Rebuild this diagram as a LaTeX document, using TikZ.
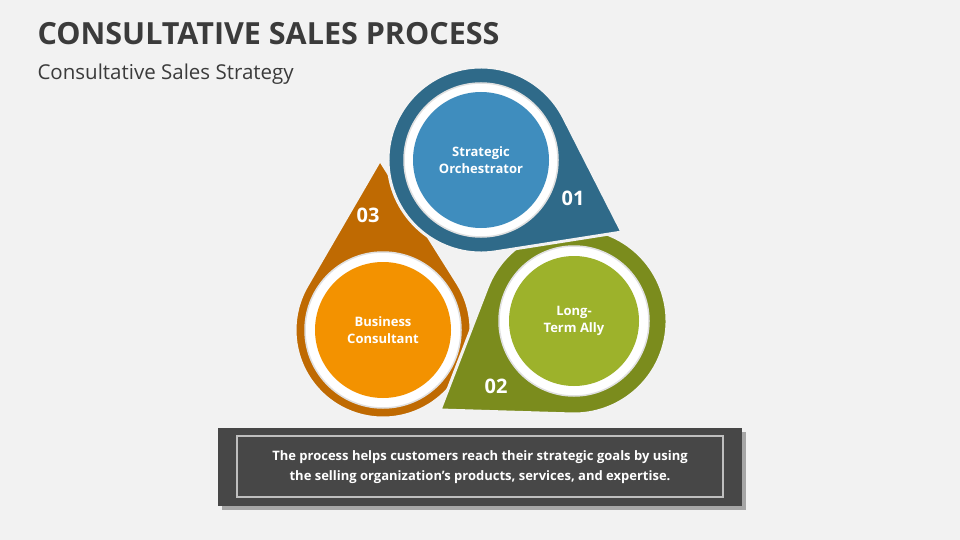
\documentclass[tikz,border=0pt]{standalone}
\usepackage{fontspec}
\setmainfont{Open Sans}
\usetikzlibrary{calc}
\definecolor{bg}{HTML}{F2F2F2}
\definecolor{bluO}{HTML}{2F6A89}
\definecolor{bluI}{HTML}{3F8DBE}
\definecolor{grnO}{HTML}{7B8C1D}
\definecolor{grnI}{HTML}{9DB22B}
\definecolor{orgO}{HTML}{BF6A02}
\definecolor{orgI}{HTML}{F39200}
\definecolor{ttl}{HTML}{3B3B3B}
\tikzset{
 drop/.style={draw=bg,line width=3pt},
 ring/.style={circle,fill=white,draw=black!12,line width=1.5pt},
 inner/.style={circle,text=white,font=\bfseries\fontsize{13}{17}\selectfont,align=center},
 num/.style={text=white,font=\bfseries\fontsize{20}{24}\selectfont},
}
\begin{document}
\begin{tikzpicture}[x=1pt,y=-1pt]
\fill[bg] (0,0) rectangle (960,540);
\useasboundingbox (0,0) rectangle (960,540);
\node[anchor=west,text=ttl,font=\bfseries\fontsize{30.5}{36}\selectfont] (title) at (34,34) {CONSULTATIVE SALES PROCESS};
\node[anchor=west,text=ttl,font=\fontsize{20.5}{25}\selectfont] (sub) at (34,74) {Consultative Sales Strategy};
% centers
\coordinate (co) at (383,330);
\coordinate (cg) at (574,321);
\coordinate (cb) at (481,160);
% orange
\filldraw[drop,fill=orgO] (380,160) -- ($(co)+(327.8:88)$) arc[start angle=327.8,end angle=570.2,radius=88] -- cycle;
% green
\filldraw[drop,fill=grnO] (440,410) -- ($(cg)+(201.1:93)$) arc[start angle=201.1,end angle=451.7,radius=93] -- cycle;
% blue
\filldraw[drop,fill=bluO] (622,232) -- ($(cb)+(81:93)$) arc[start angle=81,end angle=333,radius=93] -- cycle;
\node[ring,minimum size=154pt] (rb) at (cb) {};
\node[ring,minimum size=150pt] (rg) at (cg) {};
\node[ring,minimum size=156pt] (ro) at (co) {};
\node[inner,fill=bluI,minimum size=136pt] (nb) at (cb) {Strategic\\Orchestrator};
\node[inner,fill=grnI,minimum size=130pt] (ng) at (cg) {Long-\\Term Ally};
\node[inner,fill=orgI,minimum size=136pt] (no) at (co) {Business\\Consultant};
\node[num] (n1) at (573,198) {01};
\node[num] (n2) at (496,386) {02};
\node[num] (n3) at (368,215) {03};
% text box
\fill[black!35] (222,432) rectangle (746,510);
\fill[black!72] (218,428) rectangle (742,506);
\draw[black!25,line width=1.2pt] (237,436) rectangle (723,497);
\node[text=white,font=\bfseries\fontsize{13}{20}\selectfont,align=center] (desc) at (480,467) {The process helps customers reach their strategic goals by using\\the selling organization’s products, services, and expertise.};
\end{tikzpicture}
\end{document}
